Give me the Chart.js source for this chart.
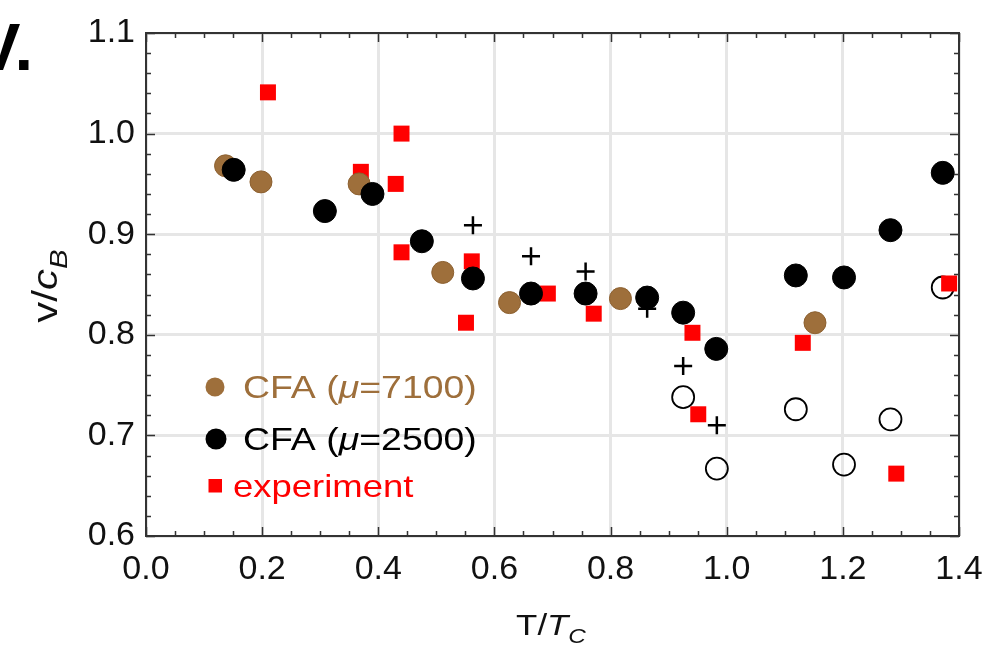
<!DOCTYPE html>
<html lang="en">
<head>
  <meta charset="UTF-8">
  <title>v/cB vs T/Tc</title>
  <script src="https://cdn.jsdelivr.net/npm/chart.js"></script>
  <style>
    body {
      margin: 0;
      padding: 0;
      background: #fff;
    }
    #chart {
      display: block;
    }
  </style>
</head>
<body>
  <canvas id="chart" width="988" height="649"></canvas>

  <script>
    // values (x = T/Tc, y = v/cB)
    const cfa7100T = [0.137, 0.198, 0.367, 0.511, 0.626, 0.817, 1.152];
    const cfa7100V = [0.968, 0.952, 0.950, 0.862, 0.832, 0.836, 0.812];

    const cfa2500T = [0.151, 0.308, 0.390, 0.475, 0.563, 0.663, 0.757, 0.863, 0.925, 0.982, 1.119, 1.202, 1.282, 1.372];
    const cfa2500V = [0.964, 0.923, 0.940, 0.893, 0.856, 0.841, 0.841, 0.837, 0.822, 0.786, 0.859, 0.857, 0.904, 0.961];

    const openT = [0.925, 0.983, 1.119, 1.202, 1.282, 1.372];
    const openV = [0.738, 0.667, 0.726, 0.671, 0.716, 0.847];

    const crossT = [0.563, 0.663, 0.757, 0.863, 0.925, 0.983];
    const crossV = [0.909, 0.878, 0.863, 0.826, 0.769, 0.710];

    const expT = [0.210, 0.370, 0.430, 0.440, 0.440, 0.551, 0.561, 0.692, 0.771, 0.941, 0.951, 1.131, 1.292, 1.383];
    const expV = [1.041, 0.962, 0.950, 1.000, 0.882, 0.812, 0.873, 0.841, 0.821, 0.802, 0.721, 0.792, 0.662, 0.851];

    const xMin = 0.0, xMax = 1.4, xStep = 0.2;
    const yMin = 0.6, yMax = 1.1, yStep = 0.1;

    const FONT = '"Liberation Sans", Arial, Helvetica, sans-serif';
    const BROWN = '#9e6f3b';
    const RED = '#ff0000';

    function toPoints(xs, ys) {
      return xs.map((x, i) => ({ x: x, y: ys[i] }));
    }

    // draws a list of text runs (regular / italic / subscript) as one line
    function drawRuns(ctx, runs, x, y, size, color, align, scaleX) {
      ctx.save();
      ctx.fillStyle = color;
      ctx.textBaseline = 'alphabetic';
      ctx.textAlign = 'left';
      let total = 0;
      runs.forEach(r => {
        const s = r.sub ? size * 0.7 : size;
        ctx.font = (r.italic ? 'italic ' : '') + s + 'px ' + FONT;
        r.w = ctx.measureText(r.text).width;
        total += r.w;
      });
      ctx.translate(x, y);
      ctx.scale(scaleX, 1);
      let cx = align === 'center' ? -total / 2 : 0;
      runs.forEach(r => {
        const s = r.sub ? size * 0.7 : size;
        ctx.font = (r.italic ? 'italic ' : '') + s + 'px ' + FONT;
        ctx.fillText(r.text, cx, r.sub ? size * 0.28 : 0);
        cx += r.w;
      });
      ctx.restore();
    }

    // frame with inward ticks on all four sides, titles, legend, panel label
    const decorPlugin = {
      id: 'decor',
      afterDatasetsDraw(chart) {
        const ctx = chart.ctx;
        const a = chart.chartArea;
        const xs = chart.scales.x;
        const ys = chart.scales.y;

        ctx.save();
        ctx.strokeStyle = '#333';
        ctx.lineWidth = 2;
        ctx.strokeRect(a.left, a.top, a.right - a.left, a.bottom - a.top);

        ctx.lineWidth = 1.5;
        ctx.beginPath();
        for (let i = 0; i <= 28; i++) {
          const v = xMin + i * 0.05;
          const px = Math.round(xs.getPixelForValue(v)) + 0.5;
          const len = (i % 4 === 0) ? 9 : 5;
          ctx.moveTo(px, a.bottom); ctx.lineTo(px, a.bottom - len);
          ctx.moveTo(px, a.top); ctx.lineTo(px, a.top + len);
        }
        for (let i = 0; i <= 25; i++) {
          const v = yMin + i * 0.02;
          const py = Math.round(ys.getPixelForValue(v)) + 0.5;
          const len = (i % 5 === 0) ? 9 : 5;
          ctx.moveTo(a.left, py); ctx.lineTo(a.left + len, py);
          ctx.moveTo(a.right, py); ctx.lineTo(a.right - len, py);
        }
        ctx.stroke();
        ctx.restore();

        // axis titles
        drawRuns(ctx, [
          { text: 'T/' },
          { text: 'T', italic: true },
          { text: 'C', italic: true, sub: true }
        ], 551, 635, 29, '#111', 'center', 1.2);

        ctx.save();
        ctx.translate(57, 286);
        ctx.rotate(-Math.PI / 2);
        drawRuns(ctx, [
          { text: 'v/' },
          { text: 'c', italic: true },
          { text: 'B', italic: true, sub: true }
        ], 0, 0, 35, '#111', 'center', 1.2);
        ctx.restore();

        // legend
        ctx.save();
        ctx.fillStyle = BROWN;
        ctx.beginPath(); ctx.arc(215, 387, 9.5, 0, Math.PI * 2); ctx.fill();
        ctx.fillStyle = '#000';
        ctx.beginPath(); ctx.arc(216, 439, 10.5, 0, Math.PI * 2); ctx.fill();
        ctx.fillStyle = RED;
        ctx.fillRect(208.5, 479, 13.5, 13.5);
        ctx.restore();

        drawRuns(ctx, [{ text: 'CFA (' }, { text: '\u03bc', italic: true }, { text: '=7100)' }],
          243, 398, 32, BROWN, 'left', 1.17);
        drawRuns(ctx, [{ text: 'CFA (' }, { text: '\u03bc', italic: true }, { text: '=2500)' }],
          243, 450, 32, '#000', 'left', 1.17);
        drawRuns(ctx, [{ text: 'experiment' }],
          233, 497, 32, RED, 'left', 1.14);

        // panel label, cut at the left edge
        ctx.save();
        ctx.fillStyle = '#000';
        ctx.font = 'bold 67px ' + FONT;
        ctx.textAlign = 'right';
        ctx.textBaseline = 'alphabetic';
        ctx.fillText('V.', 33, 70);
        ctx.restore();
      }
    };

    const ctx = document.getElementById('chart').getContext('2d');
    const chart = new Chart(ctx, {
      type: 'scatter',
      data: {
        datasets: [
          {
            label: 'CFA (\u03bc=2500)',
            data: toPoints(cfa2500T, cfa2500V),
            pointStyle: 'circle',
            pointRadius: 11.5,
            backgroundColor: '#000',
            borderColor: '#000',
            borderWidth: 1
          },
          {
            label: 'CFA (\u03bc=7100)',
            data: toPoints(cfa7100T, cfa7100V),
            pointStyle: 'circle',
            pointRadius: 11,
            backgroundColor: BROWN,
            borderColor: '#8c6030',
            borderWidth: 1
          },
          {
            label: 'cross',
            data: toPoints(crossT, crossV),
            pointStyle: 'cross',
            pointRadius: 9,
            borderColor: '#000',
            borderWidth: 2.5
          },
          {
            label: 'experiment',
            data: toPoints(expT, expV),
            pointStyle: 'rect',
            pointRadius: 11.3,
            backgroundColor: RED,
            borderColor: RED,
            borderWidth: 0
          },
          {
            label: 'open',
            data: toPoints(openT, openV),
            pointStyle: 'circle',
            pointRadius: 11,
            backgroundColor: 'rgba(255,255,255,0)',
            borderColor: '#000',
            borderWidth: 1.8
          }
        ]
      },
      options: {
        responsive: false,
        animation: false,
        devicePixelRatio: 1,
        layout: {
          padding: { top: 33, right: 29, left: 0, bottom: 0 }
        },
        plugins: {
          legend: { display: false },
          tooltip: { enabled: false }
        },
        scales: {
          x: {
            type: 'linear',
            min: xMin,
            max: xMax,
            afterFit(scale) {
              scale.height = 113;
              scale.paddingLeft = 0;
              scale.paddingRight = 0;
            },
            border: { display: false },
            grid: { color: '#e6e6e6', lineWidth: 3, drawTicks: false },
            ticks: {
              stepSize: xStep,
              padding: 13,
              color: '#111',
              font: { family: FONT, size: 34 },
              callback: v => v.toFixed(1)
            }
          },
          y: {
            type: 'linear',
            min: yMin,
            max: yMax,
            afterFit(scale) {
              scale.width = 146;
              scale.paddingTop = 0;
              scale.paddingBottom = 0;
            },
            border: { display: false },
            grid: { color: '#e6e6e6', lineWidth: 3, drawTicks: false },
            ticks: {
              stepSize: yStep,
              padding: 11,
              color: '#111',
              font: { family: FONT, size: 34 },
              callback: v => v.toFixed(1)
            }
          }
        }
      },
      plugins: [decorPlugin]
    });
  </script>
</body>
</html>
